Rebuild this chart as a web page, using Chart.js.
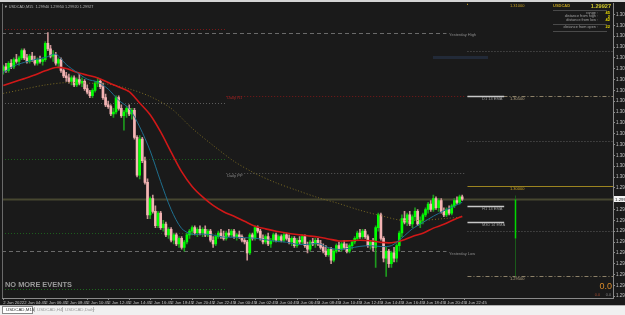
<!DOCTYPE html>
<html><head><meta charset="utf-8">
<script src="https://cdn.jsdelivr.net/npm/chart.js@4.4.0/dist/chart.umd.min.js"></script>
<style>
html,body{margin:0;padding:0;background:#1a1a1a;width:625px;height:315px;overflow:hidden}
canvas{display:block}
</style></head><body>
<canvas id="c" width="625" height="315"></canvas>
<script>
// ---------- DATA ----------
const symbol = 'USDCAD';
const timeLabels = ["2 Jun 2022","2 Jun 04:45","2 Jun 06:45","2 Jun 08:45","2 Jun 10:45","2 Jun 12:45","2 Jun 14:45","2 Jun 16:45","2 Jun 18:45","2 Jun 20:45","2 Jun 22:45","3 Jun 00:45","3 Jun 02:45","3 Jun 04:45","3 Jun 06:45","3 Jun 08:45","3 Jun 10:45","3 Jun 12:45","3 Jun 14:45","3 Jun 16:45","3 Jun 18:45","3 Jun 20:45","3 Jun 22:45"];
const priceTicks = [1.2939,1.2945,1.2951,1.2957,1.2963,1.2969,1.2975,1.2981,1.2987,1.2993,1.2999,1.3005,1.3011,1.3017,1.3023,1.3029,1.3035,1.3041,1.3047,1.3053,1.3059,1.3065,1.3071,1.3077,1.3083,1.3089,1.3095];

const openP = [1.3064,1.3066,1.3064,1.3068,1.3066,1.3070,1.3069,1.3071,1.3075,1.3071,
1.3069,1.3072,1.3070,1.3068,1.3070,1.3069,1.3070,1.3079,1.3076,1.3072,
1.3073,1.3068,1.3070,1.3064,1.3061,1.3060,1.3058,1.3060,1.3056,1.3059,
1.3057,1.3058,1.3054,1.3052,1.3050,1.3053,1.3057,1.3058,1.3055,1.3049,
1.3045,1.3044,1.3040,1.3041,1.3049,1.3043,1.3039,1.3041,1.3043,1.3040,
1.3042,1.3027,1.3006,1.3026,1.3014,1.3002,1.2984,1.2993,1.2986,1.2978,
1.2985,1.2977,1.2979,1.2973,1.2976,1.2970,1.2973,1.2968,1.2971,1.2966,
1.2969,1.2973,1.2975,1.2977,1.2974,1.2976,1.2974,1.2976,1.2973,1.2975,
1.2970,1.2968,1.2972,1.2974,1.2972,1.2971,1.2974,1.2973,1.2975,1.2972,
1.2973,1.2972,1.2970,1.2969,1.2963,1.2973,1.2971,1.2977,1.2975,1.2971,
1.2969,1.2972,1.2968,1.2970,1.2973,1.2970,1.2972,1.2970,1.2973,1.2971,
1.2969,1.2971,1.2967,1.2970,1.2969,1.2972,1.2967,1.2965,1.2969,1.2968,
1.2970,1.2968,1.2966,1.2964,1.2962,1.2965,1.2959,1.2964,1.2967,1.2965,
1.2968,1.2966,1.2964,1.2967,1.2969,1.2971,1.2974,1.2972,1.2975,1.2972,
1.2967,1.2969,1.2966,1.2977,1.2984,1.2971,1.2960,1.2964,1.2957,1.2963,
1.2960,1.2967,1.2974,1.2982,1.2980,1.2984,1.2979,1.2983,1.2986,1.2979,
1.2981,1.2984,1.2987,1.2990,1.2987,1.2993,1.2988,1.2992,1.2986,1.2984,
1.2987,1.2985,1.2989,1.2992,1.2991,1.2994];
const highP = [1.3067,1.3068,1.3069,1.3070,1.3071,1.3073,1.3072,1.3076,1.3076,1.3073,
1.3073,1.3074,1.3072,1.3071,1.3072,1.3071,1.3080,1.3085,1.3078,1.3075,
1.3074,1.3071,1.3071,1.3065,1.3063,1.3062,1.3061,1.3061,1.3060,1.3062,
1.3060,1.3059,1.3056,1.3053,1.3054,1.3058,1.3060,1.3059,1.3057,1.3051,
1.3047,1.3045,1.3043,1.3050,1.3050,1.3045,1.3042,1.3044,1.3045,1.3043,
1.3043,1.3028,1.3028,1.3027,1.3016,1.3004,1.2994,1.2995,1.2989,1.2986,
1.2986,1.2981,1.2980,1.2977,1.2977,1.2974,1.2974,1.2972,1.2972,1.2970,
1.2974,1.2976,1.2978,1.2978,1.2977,1.2978,1.2977,1.2978,1.2976,1.2976,
1.2972,1.2973,1.2975,1.2976,1.2975,1.2975,1.2976,1.2976,1.2976,1.2974,
1.2975,1.2973,1.2971,1.2970,1.2974,1.2974,1.2978,1.2978,1.2976,1.2973,
1.2973,1.2974,1.2971,1.2974,1.2974,1.2973,1.2973,1.2974,1.2974,1.2973,
1.2972,1.2972,1.2971,1.2972,1.2973,1.2973,1.2969,1.2970,1.2971,1.2971,
1.2971,1.2970,1.2968,1.2967,1.2966,1.2966,1.2965,1.2968,1.2969,1.2969,
1.2970,1.2968,1.2968,1.2970,1.2972,1.2975,1.2976,1.2976,1.2976,1.2973,
1.2970,1.2971,1.2978,1.2985,1.2985,1.2972,1.2966,1.2965,1.2964,1.2966,
1.2968,1.2975,1.2984,1.2986,1.2985,1.2986,1.2984,1.2988,1.2987,1.2983,
1.2985,1.2988,1.2991,1.2992,1.2995,1.2994,1.2993,1.2993,1.2988,1.2988,
1.2989,1.2990,1.2993,1.2994,1.2995,1.2995];
const lowP = [1.3062,1.3063,1.3063,1.3065,1.3065,1.3068,1.3067,1.3070,1.3070,1.3068,
1.3068,1.3069,1.3067,1.3067,1.3068,1.3067,1.3069,1.3075,1.3071,1.3069,
1.3067,1.3066,1.3063,1.3060,1.3058,1.3057,1.3056,1.3055,1.3055,1.3056,
1.3055,1.3053,1.3051,1.3049,1.3049,1.3052,1.3055,1.3054,1.3048,1.3044,
1.3043,1.3039,1.3038,1.3040,1.3042,1.3038,1.3031,1.3038,1.3039,1.3037,
1.3026,1.3005,1.3004,1.3013,1.3001,1.2982,1.2982,1.2985,1.2977,1.2977,
1.2976,1.2975,1.2972,1.2971,1.2969,1.2968,1.2967,1.2966,1.2965,1.2964,
1.2968,1.2971,1.2973,1.2973,1.2972,1.2973,1.2972,1.2972,1.2972,1.2969,
1.2966,1.2967,1.2971,1.2971,1.2970,1.2970,1.2972,1.2972,1.2971,1.2970,
1.2971,1.2969,1.2968,1.2959,1.2962,1.2970,1.2970,1.2974,1.2970,1.2968,
1.2968,1.2967,1.2966,1.2969,1.2969,1.2969,1.2969,1.2969,1.2970,1.2968,
1.2967,1.2966,1.2966,1.2968,1.2968,1.2966,1.2963,1.2964,1.2967,1.2966,
1.2967,1.2965,1.2963,1.2961,1.2961,1.2957,1.2958,1.2963,1.2964,1.2964,
1.2965,1.2963,1.2963,1.2965,1.2968,1.2970,1.2971,1.2971,1.2971,1.2966,
1.2965,1.2964,1.2955,1.2975,1.2970,1.2958,1.2950,1.2955,1.2955,1.2958,
1.2958,1.2964,1.2972,1.2979,1.2978,1.2978,1.2977,1.2981,1.2978,1.2977,
1.2979,1.2983,1.2985,1.2986,1.2986,1.2987,1.2986,1.2985,1.2983,1.2983,
1.2984,1.2984,1.2988,1.2990,1.2990,1.2992];
const closeP = [1.3066,1.3064,1.3068,1.3066,1.3070,1.3069,1.3071,1.3075,1.3071,1.3069,
1.3072,1.3070,1.3068,1.3070,1.3069,1.3070,1.3079,1.3076,1.3072,1.3073,
1.3068,1.3070,1.3064,1.3061,1.3060,1.3058,1.3060,1.3056,1.3059,1.3057,
1.3058,1.3054,1.3052,1.3050,1.3053,1.3057,1.3058,1.3055,1.3049,1.3045,
1.3044,1.3040,1.3041,1.3049,1.3043,1.3039,1.3041,1.3043,1.3040,1.3042,
1.3027,1.3006,1.3026,1.3014,1.3002,1.2984,1.2993,1.2986,1.2978,1.2985,
1.2977,1.2979,1.2973,1.2976,1.2970,1.2973,1.2968,1.2971,1.2966,1.2969,
1.2973,1.2975,1.2977,1.2974,1.2976,1.2974,1.2976,1.2973,1.2975,1.2970,
1.2968,1.2972,1.2974,1.2972,1.2971,1.2974,1.2973,1.2975,1.2972,1.2973,
1.2972,1.2970,1.2969,1.2963,1.2973,1.2971,1.2977,1.2975,1.2971,1.2969,
1.2972,1.2968,1.2970,1.2973,1.2970,1.2972,1.2970,1.2973,1.2971,1.2969,
1.2971,1.2967,1.2970,1.2969,1.2972,1.2967,1.2965,1.2969,1.2968,1.2970,
1.2968,1.2966,1.2964,1.2962,1.2965,1.2959,1.2964,1.2967,1.2965,1.2968,
1.2966,1.2964,1.2967,1.2969,1.2971,1.2974,1.2972,1.2975,1.2972,1.2967,
1.2969,1.2966,1.2977,1.2984,1.2971,1.2960,1.2964,1.2957,1.2963,1.2960,
1.2967,1.2974,1.2982,1.2980,1.2984,1.2979,1.2983,1.2986,1.2979,1.2981,
1.2984,1.2987,1.2990,1.2987,1.2993,1.2988,1.2992,1.2986,1.2984,1.2987,
1.2985,1.2989,1.2992,1.2991,1.2994,1.29927];

// moving averages, one value every 4 bars (last value = last bar)
const maRed = [1.30557,1.30576,1.30595,1.30615,1.30638,1.30657,1.30651,1.30630,1.30614,1.30599,
1.30573,1.30549,1.30523,1.30460,1.30395,1.30300,1.30188,1.30080,1.29998,1.29940,
1.29893,1.29858,1.29833,1.29805,1.29778,1.29763,1.29750,1.29740,1.29732,1.29725,
1.29718,1.29707,1.29696,1.29697,1.29700,1.29697,1.29688,1.29686,1.29698,1.29721,
1.29739,1.29767,1.29788,1.29815,1.29833];
const maTeal = [1.30629,1.30665,1.30685,1.30700,1.30712,1.30730,1.30673,1.30630,1.30592,1.30576,
1.30537,1.30475,1.30429,1.30328,1.30195,1.30025,1.29870,1.29765,1.29733,1.29734,
1.29729,1.29717,1.29717,1.29714,1.29711,1.29703,1.29694,1.29689,1.29677,1.29677,
1.29682,1.29659,1.29649,1.29656,1.29666,1.29670,1.29665,1.29670,1.29713,1.29763,
1.29798,1.29833,1.29863,1.29889,1.29910];
// slow dotted MA, one value every 8 bars (last value = last bar)
const maOlive = [1.30513,1.30537,1.30560,1.30573,1.30570,1.30564,1.30538,1.30496,1.30430,1.30320,
1.30225,1.30137,1.30070,1.30018,1.29976,1.29936,1.29903,1.29866,1.29836,1.29810,
1.29810,1.29820,1.29828];

const bid = 1.29927;
const yesterdayHigh = 1.3085, yesterdayLow = 1.2964;
const dailyR1 = 1.3050, dailyPP = 1.3007;
const prevDayLevels = [1.3087, 1.3046, 1.3015, 1.2974];
const roundMajor = [1.3100, 1.3000];
const roundHalf = [1.3050, 1.2950];
const roundQuarter = [1.3075, 1.3025, 1.2975];
const emaNames = ['D1 14 EMA', 'H1 14 EMA', 'M30 14 EMA'];
const emaValues = [1.3050, 1.2989, 1.2980];
const dayOpen = 1.2971, dayHigh = 1.2995, dayLow = 1.2950;
const statNames = ['range :', 'distance from high :', 'distance from low :', 'distance from open :'];
const statValues = [45, 2, 42, 22];
const tabNames = ['USDCAD,M15', 'USDCAD,H4', 'USDCAD,Daily'];

// ---------- BUILD ----------
const SLOTS = 233, BARS_PER_LABEL = 8, DAY_START = 85;
const nBars = closeP.length, lastBar = nBars - 1;
const labels = Array.from({length: SLOTS}, (_, i) => (i % BARS_PER_LABEL === 0 && i / BARS_PER_LABEL < timeLabels.length) ? timeLabels[i / BARS_PER_LABEL] : '');
const upBar = closeP.map((c, i) => c >= openP[i]);
function sparse(arr, step) {
  const out = new Array(nBars).fill(null);
  arr.forEach((v, k) => { out[Math.min(k * step, lastBar)] = v; });
  return out;
}
const font = '"Liberation Sans", Arial, sans-serif';

const overlay = {
  id: 'overlay',
  beforeDraw(chart) {
    const ctx = chart.ctx;
    ctx.save(); ctx.fillStyle = '#1a1a1a'; ctx.fillRect(0, 0, chart.width, chart.height);
    ctx.fillStyle = '#d4d4d4'; ctx.fillRect(0, 0, chart.width, 2);
    ctx.restore();
  },
  beforeDatasetsDraw(chart) {
    const {ctx, chartArea: a, scales: {x, y}} = chart;
    const X = i => x.getPixelForValue(i);
    const Y = p => Math.round(y.getPixelForValue(p)) + 0.5;
    ctx.save();
    ctx.beginPath(); ctx.rect(a.left, a.top, a.right - a.left, a.bottom - a.top); ctx.clip();
    function hline(p, x0, x1, color, dash, w) {
      ctx.strokeStyle = color; ctx.lineWidth = w || 1; ctx.setLineDash(dash || []);
      ctx.beginPath(); ctx.moveTo(x0, Y(p)); ctx.lineTo(x1, Y(p)); ctx.stroke();
    }
    const dot = [1, 2];
    const prevCols = ['#7a1818', '#5c5c5c', '#1d5e1d', '#1d5e1d'];
    prevDayLevels.forEach((p, k) => hline(p, a.left, X(DAY_START), prevCols[k], dot));
    hline(yesterdayHigh, a.left, X(169), '#6a6a6a', [4, 3]);
    hline(yesterdayLow, a.left, X(169), '#6a6a6a', [4, 3]);
    hline(dailyR1, X(DAY_START), X(176), '#7a1818', dot);
    hline(dailyPP, X(DAY_START), X(176), '#5c5c5c', dot);
    const rx0 = X(177);
    hline(roundMajor[1], rx0, a.right, '#9c8420', []);
    roundHalf.forEach(p => hline(p, rx0, a.right, '#8c8068', [4, 2, 1, 2]));
    roundQuarter.forEach(p => hline(p, rx0, a.right, '#5e5e5e', dot));
    hline(bid, a.left, a.right, '#474730', [], 2);
    ctx.strokeStyle = '#1e6a1e'; ctx.setLineDash(dot); ctx.lineWidth = 1;
    ctx.beginPath(); ctx.moveTo(a.left, 289.5); ctx.lineTo(X(DAY_START), 289.5); ctx.stroke();
    ctx.setLineDash([]);
    emaValues.forEach(p => { ctx.strokeStyle = '#c8c8c8'; ctx.lineWidth = 1.5; ctx.beginPath(); ctx.moveTo(X(177), Y(p)); ctx.lineTo(X(191), Y(p)); ctx.stroke(); });
    const dx = Math.round(X(195)) + 0.5;
    ctx.lineWidth = 1;
    ctx.strokeStyle = '#1a5a1a'; ctx.beginPath(); ctx.moveTo(dx, Y(dayLow)); ctx.lineTo(dx, Y(dayOpen)); ctx.stroke();
    ctx.beginPath(); ctx.moveTo(dx, Y(dayHigh)); ctx.lineTo(dx, Y(bid)); ctx.stroke();
    ctx.strokeStyle = '#00d800'; ctx.lineWidth = 1.5; ctx.beginPath(); ctx.moveTo(dx, Y(bid)); ctx.lineTo(dx, Y(dayOpen)); ctx.stroke();
    ctx.fillStyle = '#222a38'; ctx.fillRect(433, 56, 55, 3);
    ctx.fillStyle = '#b09020'; ctx.fillRect(Math.round(X(177)), 2, 1, 3);
    ctx.restore();
  },
  afterDraw(chart) {
    const {ctx, chartArea: a, scales: {x, y}} = chart;
    const X = i => x.getPixelForValue(i);
    const Y = p => y.getPixelForValue(p);
    ctx.save();
    ctx.strokeStyle = '#6a6a6a'; ctx.lineWidth = 1;
    ctx.beginPath(); ctx.moveTo(2.5, a.top); ctx.lineTo(2.5, a.bottom); ctx.stroke();
    ctx.textBaseline = 'middle';
    function t(s, px, py, col, f, al) { ctx.font = f; ctx.fillStyle = col; ctx.textAlign = al || 'left'; ctx.fillText(s, px, py); }
    const f4 = '4px ' + font;
    t('\u25BC ' + symbol + ',M15  ' + openP[lastBar].toFixed(5) + ' ' + highP[lastBar].toFixed(5) + ' ' + lowP[lastBar].toFixed(5) + ' ' + closeP[lastBar].toFixed(5), 4, 6.5, '#b8b8b8', '3.8px ' + font);
    t('Yesterday High', X(170), Y(yesterdayHigh) + 2, '#8a8a8a', f4);
    t('Yesterday Low', X(170), Y(yesterdayLow) + 2.5, '#8a8a8a', f4);
    t('Daily R1', X(DAY_START) + 1, Y(dailyR1) + 2.2, '#a02424', f4);
    t('Daily PP', X(DAY_START) + 1, Y(dailyPP) + 2.5, '#8a8a8a', f4);
    t(roundMajor[0].toFixed(5), 510, 6, '#c8a020', f4);
    t(roundMajor[1].toFixed(5), 510, Y(roundMajor[1]) + 2.6, '#c8a020', f4);
    t(roundHalf[0].toFixed(5), 510, Y(roundHalf[0]) + 2.8, '#b0a080', f4);
    t(roundHalf[1].toFixed(5), 510, Y(roundHalf[1]) + 3, '#b0a080', f4);
    emaNames.forEach((n, k) => t(n, 482, Y(emaValues[k]) + 2.8, '#9a9a9a', f4));
    t(symbol, 553, 6, '#c0a020', 'bold 4px ' + font);
    t(bid.toFixed(5), 611, 6, '#d0c82a', 'bold 5.6px ' + font, 'right');
    ctx.strokeStyle = '#4a4a4a'; ctx.lineWidth = 1;
    [10.5, 24.5, 31.5].forEach(py => { ctx.beginPath(); ctx.moveTo(553, py); ctx.lineTo(607, py); ctx.stroke(); });
    const sy = [13, 16.4, 20, 27.3];
    statNames.forEach((n, k) => {
      t(n, 598, sy[k], '#a0a0a0', '3.8px ' + font, 'right');
      t(String(statValues[k]), 610, sy[k], '#e8d800', 'bold 4px ' + font, 'right');
    });
    t('NO MORE EVENTS', 5, 284.5, '#9a9a9a', 'bold 7.4px ' + font);
    t('0.0', 612, 286.5, '#d88a2a', '9px ' + font, 'right');
    t('0.0', 600, 294.5, '#a04a30', '3.8px ' + font, 'right');
    t('0.0', 611, 294.5, '#808080', '3.8px ' + font, 'right');
    const by = Math.round(Y(bid));
    ctx.fillStyle = '#f2f2f2'; ctx.fillRect(a.right + 1, by - 3, 12, 6);
    t(bid.toFixed(5), a.right + 2, by + 0.3, '#222', '4.4px ' + font);
    ctx.fillStyle = '#f0f0f0'; ctx.fillRect(0, 305, chart.width, 10);
    ctx.strokeStyle = '#b0b0b0'; ctx.beginPath(); ctx.moveTo(0, 305.5); ctx.lineTo(chart.width, 305.5); ctx.stroke();
    ctx.fillStyle = '#ffffff'; ctx.fillRect(2, 306, 30, 7);
    ctx.strokeStyle = '#8a8a8a'; ctx.strokeRect(2.5, 306.5, 30, 7);
    const tx = [6, 37, 65];
    tabNames.forEach((n, k) => t(n, tx[k], 310, k === 0 ? '#303030' : '#9a9a9a', '4.4px ' + font));
    ctx.strokeStyle = '#b8b8b8';
    [34.5, 62.5, 93.5].forEach(px => { ctx.beginPath(); ctx.moveTo(px, 307); ctx.lineTo(px, 312); ctx.stroke(); });
    ctx.restore();
  }
};

new Chart(document.getElementById('c'), {
  type: 'bar',
  data: {
    labels,
    datasets: [
      { type: 'line', data: sparse(maTeal, 4), borderColor: '#1f6f8e', borderWidth: 1, pointRadius: 0, spanGaps: true, tension: 0.3, order: 1 },
      { type: 'line', data: sparse(maRed, 4), borderColor: '#d01818', borderWidth: 1.6, pointRadius: 0, spanGaps: true, tension: 0.3, order: 1 },
      { type: 'line', data: sparse(maOlive, 8), borderColor: '#7a6a22', borderWidth: 1, borderDash: [1, 2], pointRadius: 0, spanGaps: true, tension: 0.3, order: 1 },
      { type: 'bar', data: closeP.map((c, i) => [openP[i], c]), backgroundColor: upBar.map(u => u ? '#00ff00' : '#f4b4b4'), barThickness: 2, minBarLength: 1, grouped: false, order: 2 },
      { type: 'bar', data: lowP.map((l, i) => [l, highP[i]]), backgroundColor: upBar.map(u => u ? '#1e9a1e' : '#c89494'), barThickness: 1, grouped: false, order: 3 }
    ]
  },
  options: {
    responsive: false, animation: false, devicePixelRatio: 1,
    layout: { padding: { left: 2, top: 3, right: 0, bottom: 10 } },
    plugins: { legend: { display: false }, tooltip: { enabled: false } },
    scales: {
      x: {
        type: 'category', offset: true,
        grid: { display: true, offset: false, drawOnChartArea: false, drawTicks: true, tickLength: 2, color: c => (c.index % BARS_PER_LABEL === 0 && c.index <= (timeLabels.length - 1) * BARS_PER_LABEL) ? '#8a8a8a' : 'rgba(0,0,0,0)' },
        border: { display: true, color: '#8a8a8a' },
        ticks: { autoSkip: false, maxRotation: 0, minRotation: 0, align: 'start', padding: 0, color: '#c4c4c4', font: { size: 4.2, family: font } },
        afterFit(s) { s.height = 7; }
      },
      y: {
        position: 'right', min: 1.2938, max: 1.3101,
        afterBuildTicks(s) { s.ticks = priceTicks.map(v => ({ value: v })); },
        grid: { drawOnChartArea: false, tickLength: 2, color: '#8a8a8a' },
        border: { display: true, color: '#8a8a8a' },
        ticks: { autoSkip: false, padding: 1, color: '#c4c4c4', font: { size: 4.5, family: font }, callback: v => Number(v).toFixed(5) },
        afterFit(s) { s.width = 12; }
      }
    }
  },
  plugins: [overlay]
});
</script>
</body></html>
